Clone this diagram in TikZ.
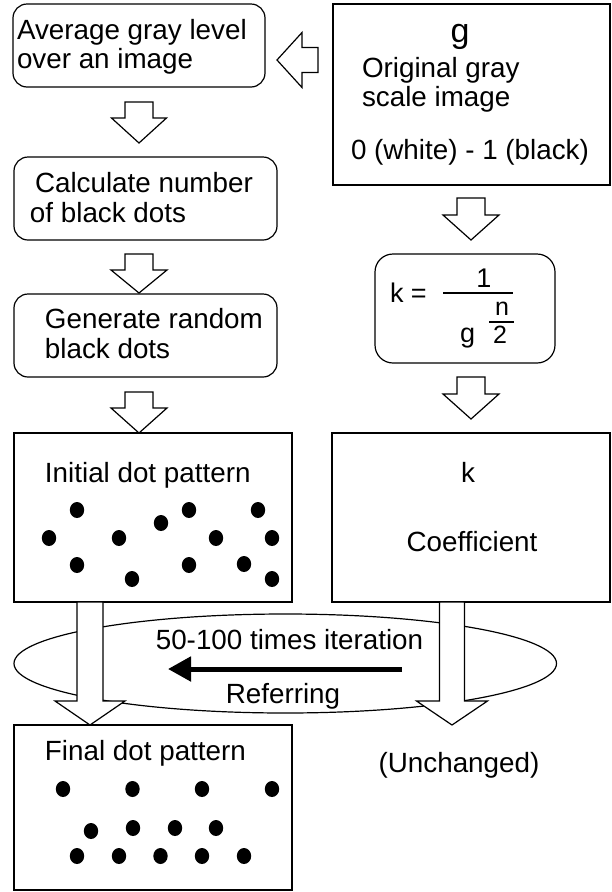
\documentclass[tikz,border=0pt]{standalone}
\usepackage{fontspec}
\setmainfont{Liberation Sans}
\usetikzlibrary{arrows.meta,calc,shapes.geometric}
% #1 tip, #2 rotation, #3 total length, #4 head length, #5 head half width, #6 shaft half width
\newcommand\blockarrow[6]{%
  \draw[blockarr, shift={#1}, rotate=#2] (0,0) -- (-#5,-#4) -- (-#6,-#4) -- (-#6,-#3) -- (#6,-#3) -- (#6,-#4) -- (#5,-#4) -- cycle;}
\begin{document}
\begin{tikzpicture}[x=1pt,y=-1pt,
  every node/.style={inner sep=0pt, outer sep=0pt, font=\fontsize{27.8}{29.5}\selectfont},
  ln/.style={line width=1.2pt},
  rbox/.style={draw, ln, rounded corners=14pt},
  sbox/.style={draw, ln},
  blockarr/.style={draw, ln, fill=white, line join=miter},
  lbl/.style={anchor=base west},
  clbl/.style={anchor=base},
  dotm/.style={fill=black}
]
\useasboundingbox (0,0) rectangle (611,892);

% boxes
\node[rbox, minimum width=252pt, minimum height=83pt] (avg) at (139,45.5) {};
\node[rbox, minimum width=263pt, minimum height=83pt] (calc) at (145.5,198.5) {};
\node[rbox, minimum width=263pt, minimum height=83pt] (gen) at (145.5,335.5) {};
\node[sbox, minimum width=278pt, minimum height=169pt] (init) at (153,517.5) {};
\node[sbox, minimum width=278pt, minimum height=165pt] (fin) at (153,807.5) {};
\node[sbox, minimum width=277pt, minimum height=181pt] (orig) at (471.5,94.5) {};
\node[rbox, rounded corners=18pt, minimum width=180pt, minimum height=109pt] (form) at (465,308.5) {};
\node[sbox, minimum width=278pt, minimum height=169pt] (coef) at (471,517.5) {};

% iteration loop
\node[draw, ln, ellipse, minimum width=542.5pt, minimum height=99pt] (loop) at (285.25,663.5) {};

% block arrows
\blockarrow{(277,60)}{-90}{41}{25}{27.5}{12.5}
\blockarrow{(139,143)}{0}{41}{25}{27.5}{14}
\blockarrow{(139,293)}{0}{39}{23}{28}{14}
\blockarrow{(139,433)}{0}{41}{25}{28}{14}
\blockarrow{(471,240)}{0}{42}{25}{28}{14}
\blockarrow{(471,419)}{0}{42}{25}{28}{14}
\blockarrow{(90,725)}{0}{123}{24}{35}{13}
\blockarrow{(452,725)}{0}{123}{24}{35.5}{12.5}

% referring arrow
\coordinate (refFrom) at (402,669);
\coordinate (refTo) at (168,669);
\draw[line width=5pt, -{Triangle[length=23pt, width=24pt]}] (refFrom) -- (refTo);

% texts
\node[lbl] (tA1) at (17,39) {Average gray level};
\node[lbl] (tA2) at (17,68) {over an image};
\node[lbl] (tC1) at (35,192) {Calculate number};
\node[lbl] (tC2) at (30,222) {of black dots};
\node[lbl] (tE1) at (45,328) {Generate random};
\node[lbl] (tE2) at (45,358) {black dots};
\node[lbl] (tI) at (45,482) {Initial dot pattern};
\node[lbl] (tF) at (45,760) {Final dot pattern};

\node[clbl, font=\fontsize{34}{34}\selectfont] (tg) at (460,42) {g};
\node[lbl] (tO1) at (362,77) {Original gray};
\node[lbl] (tO2) at (362,106) {scale image};
\node[lbl] (tO3) at (351,159) {0 (white) - 1 (black)};

\node[lbl, font=\fontsize{27}{27}\selectfont] (fk) at (390,302) {k =};
\draw[ln] (443,293) -- (513,293);
\node[clbl, font=\fontsize{27}{27}\selectfont] (f1) at (484,287) {1};
\node[lbl, font=\fontsize{27}{27}\selectfont] (fg) at (460,342) {g};
\node[clbl, font=\fontsize{25}{25}\selectfont] (fn) at (502,315) {n};
\draw[ln] (489,322) -- (514,322);
\node[clbl, font=\fontsize{25}{25}\selectfont] (f2) at (500,343) {2};

\node[clbl] (tk) at (468,482) {k};
\node[clbl] (tcoef) at (472,551) {Coefficient};

\node[clbl] (titer) at (289.5,649) {50-100 times iteration};
\node[clbl] (tref) at (283,703) {Referring};
\node[clbl] (tunch) at (459,772) {(Unchanged)};

% dots
\foreach \p in {(77,510),(49,538),(77,565),(119,538),(132,579),(161,523),(189,510),(189,565),(216,538),(258,510),(272,538),(244,564),(272,579)}
  \fill[dotm] \p ellipse [x radius=7.2, y radius=8];
\foreach \p in {(63,789),(132.5,789),(202,789),(272,789),(91,831),(133,828),(175,828),(216,828),(77,856),(119,856),(160.5,856),(202,856),(244,856)}
  \fill[dotm] \p ellipse [x radius=7.2, y radius=8];
\end{tikzpicture}
\end{document}
